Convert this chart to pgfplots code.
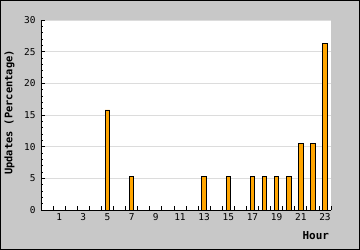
\documentclass[border=0pt]{standalone}
\usepackage{fontspec}
\setmonofont{DejaVu Sans Mono}
\usepackage{pgfplots}
\pgfplotsset{compat=1.18}
\definecolor{bggray}{HTML}{C8C8C8}
\definecolor{gridgray}{HTML}{DCDCDC}
\definecolor{barorange}{HTML}{FFA500}
\begin{document}
\begin{tikzpicture}
\draw[fill=bggray, line width=1bp] (0.5bp,0.5bp) rectangle (359.5bp,249.5bp);
\begin{axis}[
  at={(41bp,40bp)}, anchor=south west,
  scale only axis, width=290bp, height=190bp,
  xmin=-0.5, xmax=23.5, ymin=0, ymax=30,
  axis background/.style={fill=white},
  axis x line*=bottom, axis y line*=left,
  axis line style={line width=1bp, -},
  ymajorgrids, grid style={gridgray, line width=0.8bp},
  ytick={0,5,...,30}, minor y tick num=4,
  xtick={0.5,1.5,...,23.5}, xticklabels={},
  extra x ticks={1,3,...,23},
  extra x tick style={tick style={draw=none}, grid=none},
  extra x tick labels={1,3,5,7,9,11,13,15,17,19,21,23},
  tick align=inside, major tick length=4bp, minor tick length=2bp,
  tick style={black, line width=0.8bp},
  /pgf/number format/assume math mode=true,
  tick label style={font=\ttfamily\fontsize{9.5}{10}\selectfont},
  yticklabel style={xshift=-2bp},
  xlabel={Hour}, ylabel={Updates (Percentage)},
  xlabel style={font=\ttfamily\bfseries\fontsize{11}{12}\selectfont, at={(axis description cs:1,0)}, anchor=east, yshift=-26bp, xshift=1.5bp},
  ylabel style={font=\ttfamily\bfseries\fontsize{10.4}{12}\selectfont, at={(axis description cs:-0.1086,0.513)}, anchor=center},
]
\addplot[ybar, bar width=4.5bp, fill=barorange, draw=black, line width=0.8bp]
  coordinates {(5,15.79) (7,5.26) (13,5.26) (15,5.26) (17,5.26) (18,5.26) (19,5.26) (20,5.26) (21,10.53) (22,10.53) (23,26.32)};
\end{axis}
\end{tikzpicture}
\end{document}
